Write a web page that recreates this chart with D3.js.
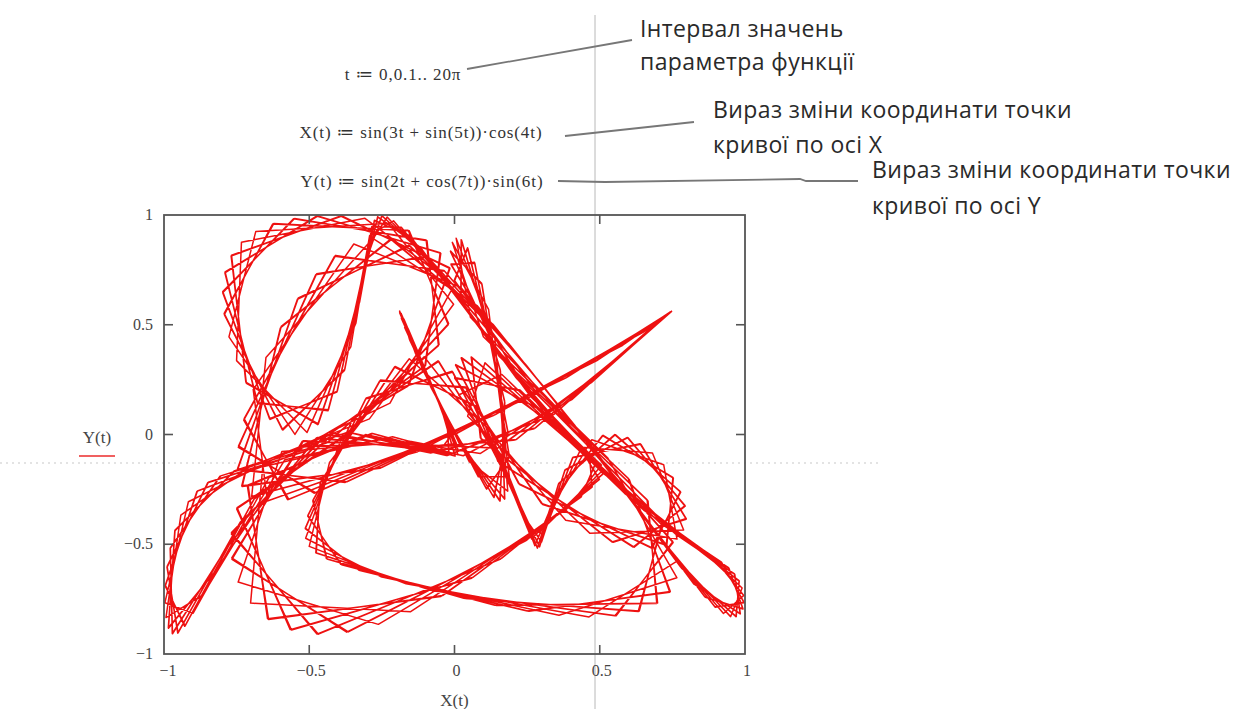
<!DOCTYPE html>
<html><head><meta charset="utf-8">
<script src="https://cdn.jsdelivr.net/npm/d3@7"></script>
<style>body{margin:0;background:#fff}svg{display:block}</style>
</head><body>
<script>
// Parameter range t := 0, 0.1 .. 20π and the curve definitions shown above the plot
const tStart = 0, tStep = 0.1, tEnd = 20 * Math.PI;
const X = t => Math.sin(3 * t + Math.sin(5 * t)) * Math.cos(4 * t);
const Y = t => Math.sin(2 * t + Math.cos(7 * t)) * Math.sin(6 * t);

const xTicks = [-1, -0.5, 0, 0.5, 1];
const yTicks = [-1, -0.5, 0, 0.5, 1];
const xTickLabels = ["\u22121", "\u22120.5", "0", "0.5", "1"];
const yTickLabels = ["\u22121", "\u22120.5", "0", "0.5", "1"];

const formulaLines = ["t \u2254 0,0.1.. 20\u03c0",
  "X(t) \u2254 sin(3t + sin(5t))\u00b7cos(4t)",
  "Y(t) \u2254 sin(2t + cos(7t))\u00b7sin(6t)"];
const notes = [
  ["Інтервал значень", "параметра функції"],
  ["Вираз зміни координати точки", "кривої по осі X"],
  ["Вираз зміни координати  точки", "кривої по осі Y"]
];

const W = 1241, H = 709;
const svg = d3.select("body").append("svg").attr("width", W).attr("height", H);

const plot = {left: 164, top: 215, right: 745, bottom: 654};
const x = d3.scaleLinear().domain([-1, 1]).range([plot.left, plot.right]);
const y = d3.scaleLinear().domain([-1, 1]).range([plot.bottom, plot.top]);

// Trace crosshair
svg.append("line").attr("x1", 595).attr("x2", 595).attr("y1", 15).attr("y2", H)
  .attr("stroke", "#b8b8b8").attr("stroke-width", 1);
svg.append("line").attr("x1", 0).attr("x2", 880).attr("y1", 463).attr("y2", 463)
  .attr("stroke", "#c8c8c8").attr("stroke-width", 1.2).attr("stroke-dasharray", "2,4");

// Curve points
const ts = d3.range(0, Math.floor((tEnd - tStart) / tStep) + 1).map(i => tStart + i * tStep);
const pts = ts.map(t => [X(t), Y(t)]);
const line = d3.line().x(d => x(d[0])).y(d => y(d[1]));
svg.append("path").datum(pts).attr("d", line).attr("fill", "none")
  .attr("stroke", "#ee1111").attr("stroke-width", 1.5).attr("stroke-linejoin", "round");

// Frame
svg.append("rect").attr("x", plot.left).attr("y", plot.top)
  .attr("width", plot.right - plot.left).attr("height", plot.bottom - plot.top)
  .attr("fill", "none").attr("stroke", "#555").attr("stroke-width", 1.8);

// Ticks on all four sides, pointing inward
const tk = 9;
const gt = svg.append("g").attr("stroke", "#555").attr("stroke-width", 1.6);
xTicks.slice(1, -1).forEach(v => {
  gt.append("line").attr("x1", x(v)).attr("x2", x(v)).attr("y1", plot.bottom).attr("y2", plot.bottom - tk);
  gt.append("line").attr("x1", x(v)).attr("x2", x(v)).attr("y1", plot.top).attr("y2", plot.top + tk);
});
yTicks.slice(1, -1).forEach(v => {
  gt.append("line").attr("y1", y(v)).attr("y2", y(v)).attr("x1", plot.left).attr("x2", plot.left + tk);
  gt.append("line").attr("y1", y(v)).attr("y2", y(v)).attr("x1", plot.right).attr("x2", plot.right - tk);
});

const serif = "'Liberation Serif','DejaVu Serif',serif";
const axisText = "#444";
xTicks.forEach((v, i) => {
  svg.append("text").attr("x", x(v) + (i === 0 ? 4 : 2)).attr("y", plot.bottom + 22)
    .attr("text-anchor", "middle").attr("font-family", serif).attr("font-size", 16)
    .attr("fill", axisText).text(xTickLabels[i]);
});
yTicks.forEach((v, i) => {
  svg.append("text").attr("x", plot.left - 11).attr("y", y(v) + 5)
    .attr("text-anchor", "end").attr("font-family", serif).attr("font-size", 16)
    .attr("fill", axisText).text(yTickLabels[i]);
});
svg.append("text").attr("x", x(0)).attr("y", 706).attr("text-anchor", "middle")
  .attr("font-family", serif).attr("font-size", 17).attr("fill", axisText).text("X(t)");
svg.append("text").attr("x", 97).attr("y", 443).attr("text-anchor", "middle")
  .attr("font-family", serif).attr("font-size", 17).attr("fill", axisText).text("Y(t)");
svg.append("line").attr("x1", 79).attr("x2", 115).attr("y1", 456).attr("y2", 456)
  .attr("stroke", "#f06060").attr("stroke-width", 2);

// Definitions
const fPos = [[403, 80], [421, 138], [422, 187]];
formulaLines.forEach((s, i) => {
  svg.append("text").attr("x", fPos[i][0]).attr("y", fPos[i][1]).attr("text-anchor", "middle")
    .attr("font-family", serif).attr("font-size", 17).attr("letter-spacing", 0.9)
    .attr("fill", "#333").text(s);
});

// Callout leaders
const leaders = [
  [[467, 69], [632, 40]],
  [[565, 136], [694, 122]],
  [[558, 181], [605, 182], [800, 179], [806, 181], [858, 181]]
];
leaders.forEach(p => {
  svg.append("path").attr("d", d3.line()(p)).attr("fill", "none")
    .attr("stroke", "#777").attr("stroke-width", 1.8);
});

// Callout texts
const sans = "'Open Sans','Noto Sans',sans-serif";
const nPos = [[640, 37, 70], [713, 118, 153], [872, 178, 214]];
notes.forEach((n, i) => {
  n.forEach((s, j) => {
    svg.append("text").attr("x", nPos[i][0]).attr("y", nPos[i][1 + j])
      .attr("font-family", sans).attr("font-size", 23).attr("letter-spacing", 0.4)
      .attr("fill", "#2a2a2a").text(s);
  });
});
</script>
</body></html>
